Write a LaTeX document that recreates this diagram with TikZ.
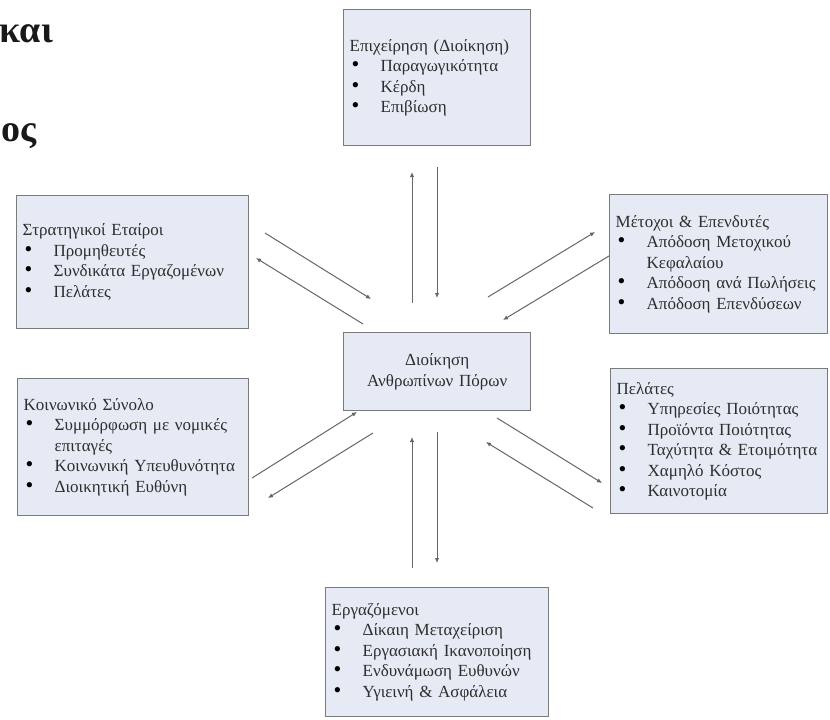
\documentclass[tikz,border=0pt]{standalone}
\usepackage{fontspec}
\setmainfont{Liberation Serif}
\usetikzlibrary{arrows.meta}

\definecolor{boxfill}{HTML}{E6EAF4}
\definecolor{boxline}{HTML}{7A7A7A}
\definecolor{txt}{HTML}{2E2E2E}
\definecolor{arrline}{HTML}{666666}

% bullet marker and hanging indent for list lines
\newcommand\bitem{\makebox[31pt][l]{\hspace{2pt}\textcolor{black}{\scalebox{1.3}{\textbullet}}}}
\newcommand\bcont{\hspace*{31pt}}

\tikzset{
  panel/.style={draw=boxline, line width=1.4pt, fill=boxfill,
    inner xsep=6pt, inner ysep=0pt, align=left, text=txt,
    font=\fontsize{17}{20.5}\selectfont, anchor=north west},
  hub/.style={panel, align=center},
  flow/.style={draw=arrline, line width=1pt,
    -{Latex[length=5pt,width=4.5pt]}},
  heading/.style={font=\bfseries\fontsize{38}{40}\selectfont,
    text=black!90, anchor=base east, inner sep=0pt}
}

\begin{document}
\begin{tikzpicture}[x=1pt, y=-1pt]
\useasboundingbox (0,0) rectangle (830,720);

% heading fragments
\node[heading] (h1) at (53,42) {και};
\node[heading] (h2) at (37,141) {ος};

% stakeholder panels
\node[panel, minimum width=187pt, minimum height=136pt, text width=175pt]
  (biz) at (343,9)
  {Επιχείρηση (Διοίκηση)\\
   \bitem Παραγωγικότητα\\
   \bitem Κέρδη\\
   \bitem Επιβίωση};

\node[panel, minimum width=232pt, minimum height=133pt, text width=220pt]
  (partners) at (16,195)
  {Στρατηγικοί Εταίροι\\
   \bitem Προμηθευτές\\
   \bitem Συνδικάτα Εργαζομένων\\
   \bitem Πελάτες};

\node[panel, minimum width=218pt, minimum height=139pt, text width=206pt]
  (holders) at (609,194)
  {Μέτοχοι \& Επενδυτές\\
   \bitem Απόδοση Μετοχικού\\
   \bcont Κεφαλαίου\\
   \bitem Απόδοση ανά Πωλήσεις\\
   \bitem Απόδοση Επενδύσεων};

\node[hub, minimum width=187pt, minimum height=78pt, text width=175pt]
  (hrm) at (343,332)
  {Διοίκηση\\ Ανθρωπίνων Πόρων};

\node[panel, minimum width=231pt, minimum height=137pt, text width=219pt]
  (society) at (17,378)
  {Κοινωνικό Σύνολο\\
   \bitem Συμμόρφωση με νομικές\\
   \bcont επιταγές\\
   \bitem Κοινωνική Υπευθυνότητα\\
   \bitem Διοικητική Ευθύνη};

\node[panel, minimum width=217pt, minimum height=145pt, text width=205pt]
  (clients) at (610,368)
  {Πελάτες\\
   \bitem Υπηρεσίες Ποιότητας\\
   \bitem Προϊόντα Ποιότητας\\
   \bitem Ταχύτητα \& Ετοιμότητα\\
   \bitem Χαμηλό Κόστος\\
   \bitem Καινοτομία};

\node[panel, minimum width=223pt, minimum height=129pt, text width=211pt]
  (staff) at (325,587)
  {Εργαζόμενοι\\
   \bitem Δίκαιη Μεταχείριση\\
   \bitem Εργασιακή Ικανοποίηση\\
   \bitem Ενδυνάμωση Ευθυνών\\
   \bitem Υγιεινή \& Ασφάλεια};

% end points of the paired flows
\coordinate (t1a) at (412,303); \coordinate (t1b) at (412,172);
\coordinate (t2a) at (437,167); \coordinate (t2b) at (437,298);
\coordinate (l1a) at (265,233); \coordinate (l1b) at (371,299);
\coordinate (l2a) at (363,324); \coordinate (l2b) at (256,258);
\coordinate (r1a) at (488,297); \coordinate (r1b) at (595,232);
\coordinate (r2a) at (609,256); \coordinate (r2b) at (503,320);
\coordinate (s1a) at (252,478); \coordinate (s1b) at (357,412);
\coordinate (s2a) at (373,433); \coordinate (s2b) at (268,498);
\coordinate (b1a) at (412,568); \coordinate (b1b) at (412,437);
\coordinate (b2a) at (437,432); \coordinate (b2b) at (437,563);
\coordinate (c1a) at (497,418); \coordinate (c1b) at (602,483);
\coordinate (c2a) at (593,508); \coordinate (c2b) at (486,442);

\draw[flow] (t1a) -- (t1b);
\draw[flow] (t2a) -- (t2b);
\draw[flow] (l1a) -- (l1b);
\draw[flow] (l2a) -- (l2b);
\draw[flow] (r1a) -- (r1b);
\draw[flow] (r2a) -- (r2b);
\draw[flow] (s1a) -- (s1b);
\draw[flow] (s2a) -- (s2b);
\draw[flow] (b1a) -- (b1b);
\draw[flow] (b2a) -- (b2b);
\draw[flow] (c1a) -- (c1b);
\draw[flow] (c2a) -- (c2b);
\end{tikzpicture}
\end{document}
